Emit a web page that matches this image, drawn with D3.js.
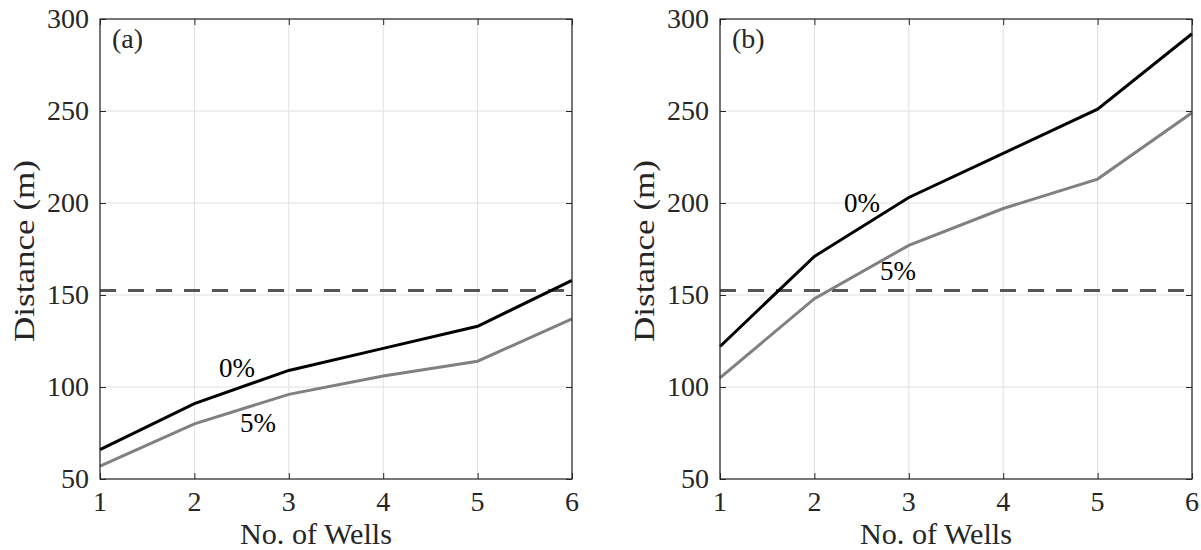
<!DOCTYPE html>
<html><head><meta charset="utf-8">
<script src="https://cdn.jsdelivr.net/npm/d3@7"></script>
<style>body{margin:0;background:#fff}svg{display:block}</style>
</head><body><svg id="c" width="1201" height="550" font-family="'Liberation Serif', 'DejaVu Serif', serif"></svg>
<script>
const wells = [1, 2, 3, 4, 5, 6];
const panelA0 = [66, 91, 109, 121, 133, 158];
const panelA5 = [57, 80, 96, 106, 114, 137];
const panelB0 = [122, 171, 203, 227, 251, 292];
const panelB5 = [105, 148, 177, 197, 213, 249];
const threshold = 152.4;
const yTicks = [50, 100, 150, 200, 250, 300];
const xTicks = [1, 2, 3, 4, 5, 6];
const panelLabels = ["(a)", "(b)"];

const FONT = "'Liberation Serif', 'DejaVu Serif', serif";
const svg = d3.select("#c");
const panels = [
  {left: 100, label: panelLabels[0], s0: panelA0, s5: panelA5, l0: [237, 377], l5: [258, 432]},
  {left: 720, label: panelLabels[1], s0: panelB0, s5: panelB5, l0: [862, 212], l5: [898, 280]}
];
const PW = 472, PT = 19, PB = 479;
const TXT = "#262626";

panels.forEach(p => {
  const g = svg.append("g");
  const x = d3.scaleLinear().domain([1, 6]).range([p.left, p.left + PW]);
  const y = d3.scaleLinear().domain([50, 300]).range([PB, PT]);
  g.selectAll(".gx").data(xTicks).join("line")
    .attr("x1", d => x(d)).attr("x2", d => x(d)).attr("y1", PT).attr("y2", PB)
    .attr("stroke", "#e0e0e0").attr("stroke-width", 1);
  g.selectAll(".gy").data(yTicks).join("line")
    .attr("y1", d => y(d)).attr("y2", d => y(d)).attr("x1", p.left).attr("x2", p.left + PW)
    .attr("stroke", "#e0e0e0").attr("stroke-width", 1);
  const ax = (gen, tr) => g.append("g").attr("transform", tr).call(gen)
    .call(s => { s.select(".domain").remove(); s.selectAll("line").attr("stroke", "#262626"); s.selectAll("text").remove(); });
  ax(d3.axisBottom(x).tickValues(xTicks).tickSizeInner(-6).tickSizeOuter(0), `translate(0,${PB})`);
  ax(d3.axisTop(x).tickValues(xTicks).tickSizeInner(-6).tickSizeOuter(0), `translate(0,${PT})`);
  ax(d3.axisLeft(y).tickValues(yTicks).tickSizeInner(-6).tickSizeOuter(0), `translate(${p.left},0)`);
  ax(d3.axisRight(y).tickValues(yTicks).tickSizeInner(-6).tickSizeOuter(0), `translate(${p.left + PW},0)`);
  const T = sel => sel.attr("font-family", FONT).attr("fill", TXT);
  g.selectAll(".xl").data(xTicks).join("text").call(T)
    .attr("x", d => x(d)).attr("y", PB + 32).attr("text-anchor", "middle")
    .attr("font-size", 28).text(d => d);
  g.selectAll(".yl").data(yTicks).join("text").call(T)
    .attr("x", p.left - 11).attr("y", d => y(d) + 9).attr("text-anchor", "end")
    .attr("font-size", 28).text(d => d);
  g.append("line").attr("x1", p.left).attr("x2", p.left + PW)
    .attr("y1", y(threshold)).attr("y2", y(threshold))
    .attr("stroke", "#555555").attr("stroke-width", 3).attr("stroke-dasharray", "16,12");
  const line = d3.line().x((d, i) => x(wells[i])).y(d => y(d));
  g.append("path").datum(p.s5).attr("d", line).attr("fill", "none")
    .attr("stroke", "#808080").attr("stroke-width", 3);
  g.append("path").datum(p.s0).attr("d", line).attr("fill", "none")
    .attr("stroke", "#000").attr("stroke-width", 3);
  g.append("rect").attr("x", p.left).attr("y", PT).attr("width", PW).attr("height", PB - PT)
    .attr("fill", "none").attr("stroke", "#262626").attr("stroke-width", 1.2);
  g.append("text").call(T).attr("x", p.left + 12).attr("y", PT + 29).attr("font-size", 28).text(p.label);
  g.append("text").call(T).attr("x", p.l0[0]).attr("y", p.l0[1]).attr("text-anchor", "middle").attr("font-size", 27).attr("fill", "#000").text("0%");
  g.append("text").call(T).attr("x", p.l5[0]).attr("y", p.l5[1]).attr("text-anchor", "middle").attr("font-size", 27).attr("fill", "#000").text("5%");
  g.append("text").call(T).attr("x", p.left + PW / 2 - 20).attr("y", 544).attr("text-anchor", "middle")
    .attr("font-size", 29).attr("textLength", 152).attr("lengthAdjust", "spacingAndGlyphs").text("No. of Wells");
  g.append("text").call(T).attr("transform", `translate(${p.left - 66},251) rotate(-90)`)
    .attr("text-anchor", "middle").attr("font-size", 29)
    .attr("textLength", 182).attr("lengthAdjust", "spacingAndGlyphs").text("Distance (m)");
});
</script></body></html>
